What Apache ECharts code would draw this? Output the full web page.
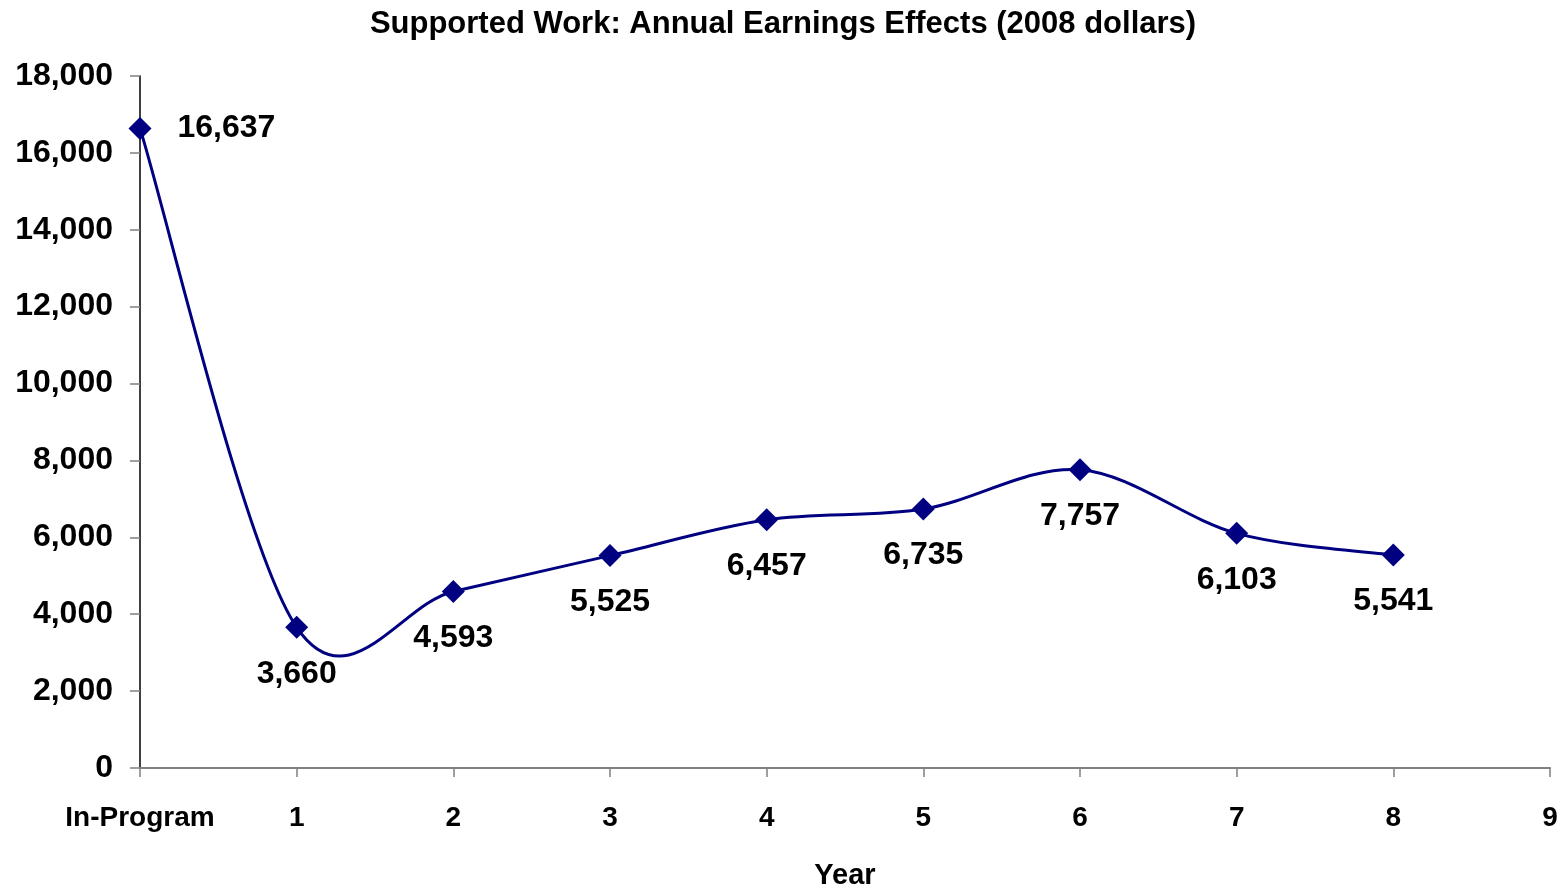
<!DOCTYPE html>
<html>
<head>
<meta charset="utf-8">
<script src="https://cdn.jsdelivr.net/npm/echarts@6/dist/echarts.min.js"></script>
<style>
  html, body { margin: 0; padding: 0; background: #fff; }
  #chart { width: 1566px; height: 890px; }
</style>
</head>
<body>
<div id="chart"></div>
<script>
// years after the program
var years = ['In-Program', '1', '2', '3', '4', '5', '6', '7', '8', '9'];
// earnings effect, 2008 dollars
var earnings = [16637, 3660, 4593, 5525, 6457, 6735, 7757, 6103, 5541];
var yTicks = { min: 0, max: 18000, step: 2000 };

var chart = echarts.init(document.getElementById('chart'));
var font = 'Liberation Sans, Arial, sans-serif';
var navy = '#000080';

var pairs = earnings.map(function (v, i) { return [i, v]; });

// excel-like smoothed line (catmull-rom, 1/6 tension) through the points
function renderCurve(params, api) {
    if (params.dataIndex !== 0) return null;
    var pts = pairs.map(function (p) { return api.coord(p); });
    var n = pts.length;
    var d = 'M' + pts[0][0] + ' ' + pts[0][1];
    for (var i = 0; i < n - 1; i++) {
        var p0 = pts[Math.max(i - 1, 0)], p1 = pts[i], p2 = pts[i + 1], p3 = pts[Math.min(i + 2, n - 1)];
        var c1x = p1[0] + (p2[0] - p0[0]) / 6, c1y = p1[1] + (p2[1] - p0[1]) / 6;
        var c2x = p2[0] - (p3[0] - p1[0]) / 6, c2y = p2[1] - (p3[1] - p1[1]) / 6;
        d += ' C' + c1x + ' ' + c1y + ' ' + c2x + ' ' + c2y + ' ' + p2[0] + ' ' + p2[1];
    }
    return {
        type: 'path',
        shape: { pathData: d },
        style: { stroke: navy, lineWidth: 3, fill: null }
    };
}

var points = earnings.map(function (v, i) {
    if (i === 0) {
        return { value: [i, v], label: { position: 'right', distance: 26 } };
    }
    return [i, v];
});

chart.setOption({
    animation: false,
    title: {
        text: 'Supported Work: Annual Earnings Effects (2008 dollars)',
        left: 'center',
        top: 4,
        textStyle: { fontFamily: font, fontSize: 31, fontWeight: 'bold', color: '#000' }
    },
    grid: { left: 140, right: 16, top: 76, bottom: 122, outerBoundsMode: 'none', containLabel: false },
    xAxis: {
        type: 'category',
        data: years,
        boundaryGap: false,
        name: 'Year',
        nameLocation: 'middle',
        nameGap: 93,
        nameTextStyle: { fontFamily: font, fontSize: 29, fontWeight: 'bold', color: '#000' },
        axisLine: { lineStyle: { color: '#808080', width: 2 } },
        axisTick: { length: 9, lineStyle: { color: '#808080', width: 1.5 } },
        axisLabel: {
            margin: 36, interval: 0,
            fontFamily: font, fontSize: 28, fontWeight: 'bold', color: '#000'
        },
        splitLine: { show: false }
    },
    yAxis: {
        type: 'value',
        min: yTicks.min,
        max: yTicks.max,
        interval: yTicks.step,
        axisLine: { show: true, lineStyle: { color: '#000', width: 1.5 } },
        axisTick: { show: true, length: 10, lineStyle: { color: '#808080', width: 1.5 } },
        axisLabel: {
            margin: 27,
            fontFamily: font, fontSize: 32, fontWeight: 'bold', color: '#000',
            formatter: function (v) { return v.toLocaleString('en-US'); }
        },
        splitLine: { show: false }
    },
    series: [{
        type: 'custom',
        data: pairs,
        renderItem: renderCurve,
        silent: true,
        z: 2
    }, {
        type: 'scatter',
        data: points,
        symbol: 'diamond',
        symbolSize: 23,
        itemStyle: { color: navy, opacity: 1 },
        z: 3,
        label: {
            show: true,
            position: 'bottom',
            distance: 19,
            fontFamily: font, fontSize: 32, fontWeight: 'bold', color: '#000',
            formatter: function (p) { return p.value[1].toLocaleString('en-US'); }
        }
    }]
});
</script>
</body>
</html>
